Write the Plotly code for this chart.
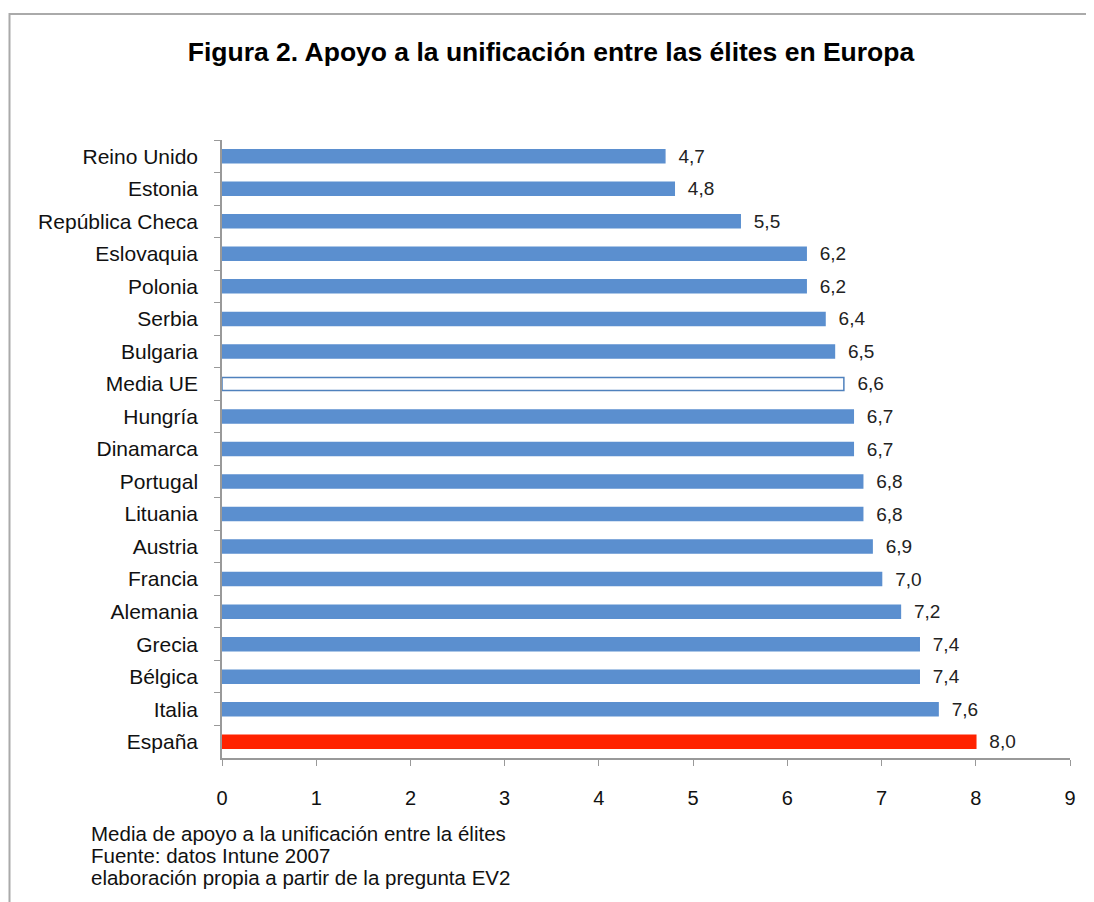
import plotly.graph_objects as go

countries = ["Reino Unido", "Estonia", "República Checa", "Eslovaquia", "Polonia", "Serbia",
             "Bulgaria", "Media UE", "Hungría", "Dinamarca", "Portugal", "Lituania", "Austria",
             "Francia", "Alemania", "Grecia", "Bélgica", "Italia", "España"]
values = [4.7, 4.8, 5.5, 6.2, 6.2, 6.4, 6.5, 6.6, 6.7, 6.7, 6.8, 6.8, 6.9, 7.0, 7.2, 7.4, 7.4, 7.6, 8.0]
x_ticks = [0, 1, 2, 3, 4, 5, 6, 7, 8, 9]

title = "Figura 2. Apoyo a la unificación entre las élites en Europa"
notes = ["Media de apoyo a la unificación entre la élites",
         "Fuente: datos Intune 2007",
         "elaboración propia a partir de la pregunta EV2"]

BLUE = "#5B8FCF"
RED = "#FF2200"
fills, lines = [], []
for c in countries:
    if c == "España":
        fills.append(RED); lines.append(RED)
    elif c == "Media UE":
        fills.append("white"); lines.append("#4F81BD")
    else:
        fills.append(BLUE); lines.append(BLUE)

labels = ["\u00a0\u00a0" + f"{v:.1f}".replace(".", ",") for v in values]

fig = go.Figure(go.Bar(
    x=values, y=countries, orientation="h",
    marker=dict(color=fills, line=dict(color=lines, width=1.5)),
    text=labels, textposition="outside", cliponaxis=False, constraintext="none",
    textfont=dict(family="Liberation Sans, Arial", size=19, color="#222"),
))

# page body has an 8px margin; figure is sized so it ends at the window edge
OFF = 8
W, H = 1094 - OFF, 902 - OFF
L, R, T, B = 222 - OFF, 1094 - 1070, 140 - OFF, 902 - 758
pw, ph = W - L - R, H - T - B

def px(x):
    return (x - OFF - L) / pw

def py(y):
    return (H - B - (y - OFF)) / ph

fig.update_layout(
    width=W, height=H,
    margin=dict(l=L, r=R, t=T, b=B, pad=0),
    paper_bgcolor="white", plot_bgcolor="white",
    bargap=0.6,
    showlegend=False,
    font=dict(family="Liberation Sans, Arial", size=21, color="#111"),
    title=dict(text=f"<b>{title}</b>", x=0.5, xanchor="center", y=1 - (52 - OFF) / H, yanchor="middle",
               font=dict(size=26.5, color="#000")),
    xaxis=dict(range=[0, 9], tickvals=x_ticks, showgrid=False, zeroline=False,
               showline=True, linecolor="#999", linewidth=1.5,
               ticks="outside", ticklen=6, tickcolor="#999",
               ticklabelstandoff=15, tickfont=dict(size=20, color="#111")),
    yaxis=dict(autorange="reversed", showgrid=False, showline=True, linecolor="#999", linewidth=1.5,
               ticks="outside", ticklen=6, tickcolor="#999", tickson="boundaries",
               ticklabelstandoff=18, tickfont=dict(size=21, color="#111")),
    shapes=[dict(type="rect", xref="paper", yref="paper",
                 x0=px(9.5), x1=px(1130), y0=py(940), y1=py(14),
                 line=dict(color="#AAAAAA", width=2), fillcolor="rgba(0,0,0,0)", layer="below")],
)

for i, n in enumerate(notes):
    fig.add_annotation(text=n, xref="paper", yref="paper", x=px(89), y=py(833 + 22 * i),
                       xanchor="left", yanchor="middle", showarrow=False,
                       font=dict(size=20.5, color="#111"))

fig.write_html("out.html")
